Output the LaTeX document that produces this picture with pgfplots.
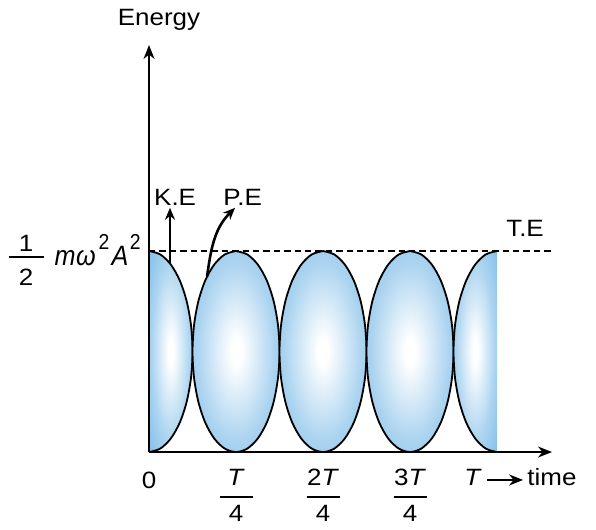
\documentclass[border=0pt]{standalone}
\usepackage{pgfplots}
\pgfplotsset{compat=1.18}
\usetikzlibrary{arrows.meta}
\usepackage{fontspec}
\setmainfont{Liberation Sans}[FakeStretch=1.1]
\newfontfamily\lblfont{Liberation Sans}[FakeStretch=0.9]
\definecolor{midblue}{RGB}{172,212,240}
\definecolor{edgeblue}{RGB}{88,170,224}
\pgfdeclareradialshading{ellshade}{\pgfpoint{0bp}{0bp}}{color(0bp)=(white); color(3bp)=(white); color(22bp)=(midblue); color(50bp)=(edgeblue)}
% stacked fraction: #1 numerator, #2 denominator, #3 gap above bar, #4 gap below bar, #5 bar width
\newcommand{\stk}[5]{\vtop{\offinterlineskip\halign{\hfil##\hfil\cr #1\cr\noalign{\kern#3}\rule{#5}{0.9pt}\cr\noalign{\kern#4}#2\cr}}}
\newcommand{\sq}{\raisebox{8pt}{\fontsize{10.8}{12}\selectfont\upshape 2}}
\begin{document}
\fontsize{11.8}{14}\selectfont
\begin{tikzpicture}
\begin{axis}[
  x=43.5pt, y=100.5pt,
  xmin=0, xmax=4.632, ymin=0, ymax=2.025,
  axis x line=bottom, axis y line=left,
  axis on top,
  clip=false,
  axis line style={line width=1.1pt},
  x axis line style={-{Stealth[length=7pt,width=5.5pt]}},
  y axis line style={-{Stealth[length=7pt,width=5.5pt]}},
  major tick length=0pt,
  xtick={0,1,2,3},
  xticklabels={\raisebox{-1.5pt}{0}\hspace{4pt},
    \stk{\textit{T}}{4}{5.5pt}{3.5pt}{16.5pt},
    \stk{2\textit{T}}{4}{5.5pt}{3.5pt}{16.5pt},
    \stk{3\textit{T}}{4}{5.5pt}{3.5pt}{16.5pt}},
  xticklabel style={anchor=base, yshift=-16.5pt},
  ytick={1},
  yticklabels={\raisebox{7pt}{\stk{1}{2}{2.5pt}{5.5pt}{17.5pt}}\hspace{5.5pt}{\lblfont\fontsize{14}{16}\selectfont\itshape m\kern0.3ptω\kern1.5pt\sq\kern1pt A\kern0.8pt\sq}},
  yticklabel style={anchor=base east, yshift=-7pt},
]
% first half-lens (right half of ellipse centred at 0)
\addplot[draw=black, line width=0.9pt, shade, shading=ellshade, smooth] coordinates {
 (0,1) (0.1294,0.9830) (0.25,0.9330) (0.3536,0.8536) (0.4330,0.75) (0.4830,0.6294) (0.5,0.5)
 (0.4830,0.3706) (0.4330,0.25) (0.3536,0.1464) (0.25,0.0670) (0.1294,0.0170) (0,0)};
% full lens centred at T/4
\addplot[draw=black, line width=0.9pt, shade, shading=ellshade, smooth] coordinates {
 (1,1) (0.8706,0.9830) (0.75,0.9330) (0.6464,0.8536) (0.5670,0.75) (0.5170,0.6294) (0.5,0.5)
 (0.5170,0.3706) (0.5670,0.25) (0.6464,0.1464) (0.75,0.0670) (0.8706,0.0170) (1,0)
 (1.1294,0.0170) (1.25,0.0670) (1.3536,0.1464) (1.4330,0.25) (1.4830,0.3706) (1.5,0.5)
 (1.4830,0.6294) (1.4330,0.75) (1.3536,0.8536) (1.25,0.9330) (1.1294,0.9830) (1,1)};
% full lens centred at 2T/4
\addplot[draw=black, line width=0.9pt, shade, shading=ellshade, smooth] coordinates {
 (2,1) (1.8706,0.9830) (1.75,0.9330) (1.6464,0.8536) (1.5670,0.75) (1.5170,0.6294) (1.5,0.5)
 (1.5170,0.3706) (1.5670,0.25) (1.6464,0.1464) (1.75,0.0670) (1.8706,0.0170) (2,0)
 (2.1294,0.0170) (2.25,0.0670) (2.3536,0.1464) (2.4330,0.25) (2.4830,0.3706) (2.5,0.5)
 (2.4830,0.6294) (2.4330,0.75) (2.3536,0.8536) (2.25,0.9330) (2.1294,0.9830) (2,1)};
% full lens centred at 3T/4
\addplot[draw=black, line width=0.9pt, shade, shading=ellshade, smooth] coordinates {
 (3,1) (2.8706,0.9830) (2.75,0.9330) (2.6464,0.8536) (2.5670,0.75) (2.5170,0.6294) (2.5,0.5)
 (2.5170,0.3706) (2.5670,0.25) (2.6464,0.1464) (2.75,0.0670) (2.8706,0.0170) (3,0)
 (3.1294,0.0170) (3.25,0.0670) (3.3536,0.1464) (3.4330,0.25) (3.4830,0.3706) (3.5,0.5)
 (3.4830,0.6294) (3.4330,0.75) (3.3536,0.8536) (3.25,0.9330) (3.1294,0.9830) (3,1)};
% last half-lens (left half of ellipse centred at T)
\addplot[draw=black, line width=0.9pt, shade, shading=ellshade, smooth] coordinates {
 (4,1) (3.8706,0.9830) (3.75,0.9330) (3.6464,0.8536) (3.5670,0.75) (3.5170,0.6294) (3.5,0.5)
 (3.5170,0.3706) (3.5670,0.25) (3.6464,0.1464) (3.75,0.0670) (3.8706,0.0170) (4,0)};
% total energy
\addplot[black, line width=1pt, dash pattern=on 3.2pt off 2pt] coordinates {(0,1) (4.632,1)};
% annotations
\draw[line width=1.3pt, -{Stealth[length=6pt,width=5pt]}] (axis cs:0.241,0.938) -- (axis cs:0.241,1.215);
\draw[line width=1.3pt, -{Stealth[length=6pt,width=5pt]}] (axis cs:0.667,0.873) to[out=82,in=225] (axis cs:0.989,1.215);
\node at (axis cs:0.30,1.269) {K.E};
\node at (axis cs:1.075,1.269) {P.E};
\node at (axis cs:4.322,1.114) {T.E};
\node at (axis cs:0.115,2.149) {Energy};
\node[anchor=base, inner sep=0pt] at (axis cs:3.724,-0.169) {\textit{T}};
\draw[line width=1.3pt, -{Stealth[length=7pt,width=5.5pt]}] (axis cs:3.885,-0.139) -- (axis cs:4.30,-0.139);
\node[anchor=base west, inner sep=0pt] at (axis cs:4.345,-0.169) {time};
\coordinate (bbA) at (axis cs:-1.713,-0.353);
\coordinate (bbB) at (axis cs:5.138,2.249);
\end{axis}
\path (bbA) rectangle (bbB);
\end{tikzpicture}
\end{document}
